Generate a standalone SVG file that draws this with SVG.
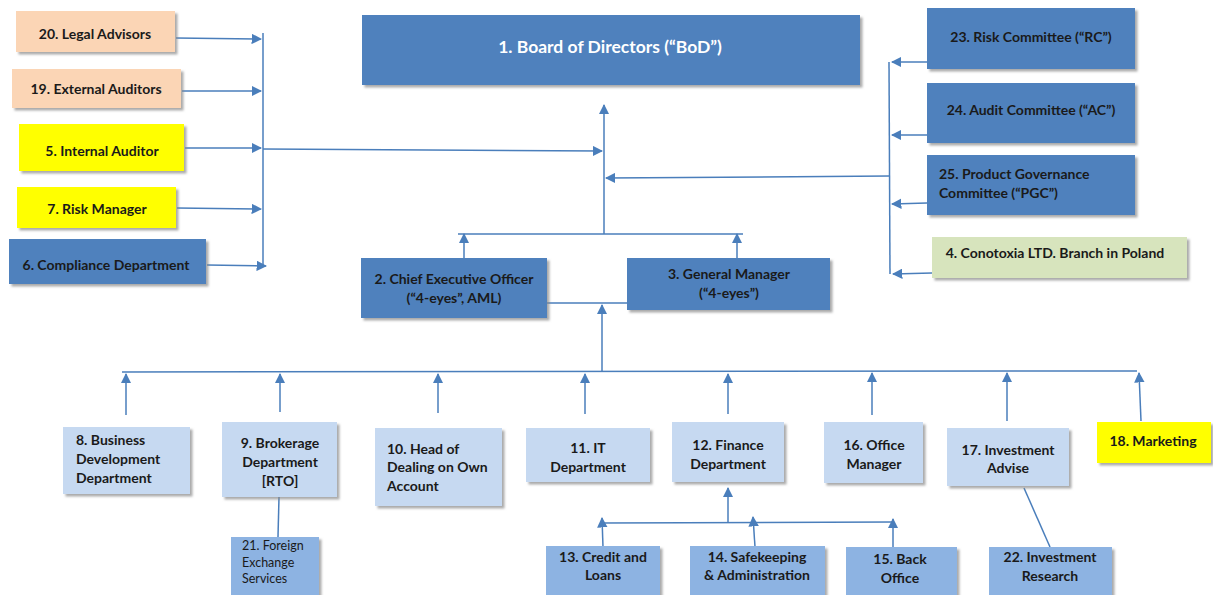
<svg xmlns="http://www.w3.org/2000/svg" width="1213" height="595" viewBox="0 0 1213 595">
<style>
text{font-family:Lato,"Open Sans","Liberation Sans",sans-serif;font-weight:bold;font-size:14px;fill:#1a1a1a;text-anchor:middle}
.l{text-anchor:start}
.w{fill:#ffffff;font-size:17.5px}
.n{font-weight:normal;font-size:12.5px}
.dk{fill:#4f81bd}
.lb{fill:#c6d9f1}
.mb{fill:#8db3e2}
.pe{fill:#fbd5b5}
.ye{fill:#ffff00}
.gr{fill:#d7e4bd}
rect{filter:url(#sh)}
.c line,.c polyline{stroke:#4a7ebb;stroke-width:1.5;fill:none}
.a{marker-end:url(#ar)}
</style>
<defs>
<filter id="sh" x="-10%" y="-10%" width="130%" height="140%">
<feDropShadow dx="2.5" dy="2.5" stdDeviation="1" flood-color="#888" flood-opacity="0.7"/>
</filter>
<marker id="ar" viewBox="0 0 10 10" refX="9" refY="5" markerWidth="7" markerHeight="7" markerUnits="strokeWidth" orient="auto">
<path d="M0,0 L10,5 L0,10 Z" fill="#4a7ebb"/>
</marker>
</defs>
<rect width="1213" height="595" fill="#ffffff" style="filter:none"/>

<g class="c">
<line x1="263" y1="33" x2="263" y2="266"/>
<line class="a" x1="176" y1="38" x2="261" y2="39"/>
<line class="a" x1="182" y1="91" x2="261" y2="91"/>
<line class="a" x1="185" y1="148" x2="261" y2="148"/>
<line class="a" x1="177" y1="208" x2="261" y2="209"/>
<line class="a" x1="207" y1="265" x2="266" y2="266"/>
<line class="a" x1="263" y1="149" x2="602" y2="151"/>
<line class="a" x1="604" y1="234" x2="604" y2="105"/>
<line class="a" x1="889" y1="176" x2="606" y2="178"/>
<line x1="889" y1="62" x2="890" y2="274"/>
<line class="a" x1="927" y1="62" x2="892" y2="62"/>
<line class="a" x1="927" y1="135" x2="892" y2="135"/>
<line class="a" x1="927" y1="203" x2="892" y2="204"/>
<line class="a" x1="932" y1="273" x2="893" y2="274"/>
<line x1="458" y1="234" x2="743" y2="234"/>
<line class="a" x1="464" y1="258" x2="464" y2="234"/>
<line class="a" x1="737" y1="258" x2="737" y2="234"/>
<line x1="547" y1="303" x2="627" y2="303"/>
<line class="a" x1="602" y1="372" x2="602" y2="305"/>
<line x1="122" y1="372" x2="1137" y2="371"/>
<line class="a" x1="126" y1="415" x2="126" y2="374"/>
<line class="a" x1="280" y1="412" x2="280" y2="374"/>
<line class="a" x1="438" y1="413" x2="438" y2="374"/>
<line class="a" x1="585" y1="414" x2="585" y2="374"/>
<line class="a" x1="728" y1="414" x2="728" y2="374"/>
<line class="a" x1="872" y1="415" x2="872" y2="373"/>
<line class="a" x1="1007" y1="421" x2="1007" y2="373"/>
<line class="a" x1="1141" y1="421" x2="1139" y2="373"/>
<line x1="279" y1="497" x2="278" y2="537"/>
<line x1="602" y1="523" x2="892" y2="522"/>
<line class="a" x1="728" y1="523" x2="728" y2="488"/>
<line class="a" x1="603" y1="547" x2="602" y2="518"/>
<line class="a" x1="755" y1="547" x2="753" y2="517"/>
<line class="a" x1="893" y1="547" x2="893" y2="519"/>
<line x1="1024" y1="488" x2="1050" y2="547"/>
</g>

<g id="n20"><rect class="pe" x="16" y="11" width="159" height="41"/><text x="95" y="39">20. Legal Advisors</text></g>
<g id="n19"><rect class="pe" x="12" y="69" width="169" height="39"/><text x="96" y="94">19. External Auditors</text></g>
<g id="n5"><rect class="ye" x="19" y="124" width="165" height="47"/><text x="102" y="156">5. Internal Auditor</text></g>
<g id="n7"><rect class="ye" x="17" y="187" width="159" height="41"/><text x="97" y="214">7. Risk Manager</text></g>
<g id="n6"><rect class="dk" x="9" y="239" width="197" height="45"/><text x="106" y="270">6. Compliance Department</text></g>

<g id="n1"><rect class="dk" x="362" y="15" width="498" height="70"/><text class="w" x="610" y="53">1. Board of Directors (“BoD”)</text></g>
<g id="n2"><rect class="dk" x="361" y="258" width="186" height="60"/><text x="454" y="284">2. Chief Executive Officer</text><text x="454" y="303">(“4-eyes”, AML)</text></g>
<g id="n3"><rect class="dk" x="627" y="258" width="203" height="52"/><text x="729" y="279">3. General Manager</text><text x="729" y="298">(“4-eyes”)</text></g>

<g id="n23"><rect class="dk" x="927" y="8" width="208" height="61"/><text x="1031" y="42">23. Risk Committee (“RC”)</text></g>
<g id="n24"><rect class="dk" x="927" y="83" width="208" height="60"/><text x="1031" y="115">24. Audit Committee (“AC”)</text></g>
<g id="n25"><rect class="dk" x="927" y="155" width="208" height="60"/><text class="l" x="939" y="179">25. Product Governance</text><text class="l" x="939" y="198">Committee (“PGC”)</text></g>
<g id="n4"><rect class="gr" x="932" y="237" width="255" height="41"/><text x="1055" y="258">4. Conotoxia LTD. Branch in Poland</text></g>

<g id="n8"><rect class="lb" x="63" y="427" width="127" height="67"/><text class="l" x="76" y="445">8. Business</text><text class="l" x="76" y="464">Development</text><text class="l" x="76" y="483">Department</text></g>
<g id="n9"><rect class="lb" x="222" y="422" width="115" height="75"/><text x="280" y="448">9. Brokerage</text><text x="280" y="467">Department</text><text x="280" y="486">[RTO]</text></g>
<g id="n10"><rect class="lb" x="375" y="428" width="127" height="78"/><text class="l" x="387" y="454">10. Head of</text><text class="l" x="387" y="472">Dealing on Own</text><text class="l" x="387" y="491">Account</text></g>
<g id="n21"><rect class="mb" x="231" y="537" width="88" height="58"/><text class="l n" x="242" y="550">21. Foreign</text><text class="l n" x="242" y="567">Exchange</text><text class="l n" x="242" y="583">Services</text></g>
<g id="n11"><rect class="lb" x="526" y="428" width="124" height="54"/><text x="588" y="453">11. IT</text><text x="588" y="472">Department</text></g>
<g id="n12"><rect class="lb" x="672" y="422" width="112" height="60"/><text x="728" y="450">12. Finance</text><text x="728" y="469">Department</text></g>
<g id="n16"><rect class="lb" x="824" y="422" width="99" height="61"/><text x="874" y="450">16. Office</text><text x="874" y="469">Manager</text></g>
<g id="n17"><rect class="lb" x="947" y="428" width="122" height="58"/><text x="1008" y="455">17. Investment</text><text x="1008" y="473">Advise</text></g>
<g id="n18"><rect class="ye" x="1097" y="422" width="114" height="41"/><text x="1153" y="446">18. Marketing</text></g>
<g id="n13"><rect class="mb" x="546" y="546" width="114" height="49"/><text x="603" y="562">13. Credit and</text><text x="603" y="580">Loans</text></g>
<g id="n14"><rect class="mb" x="690" y="546" width="135" height="49"/><text x="757" y="562">14. Safekeeping</text><text x="757" y="580">&amp; Administration</text></g>
<g id="n15"><rect class="mb" x="846" y="547" width="111" height="48"/><text x="900" y="564">15. Back</text><text x="900" y="583">Office</text></g>
<g id="n22"><rect class="mb" x="989" y="547" width="123" height="48"/><text x="1050" y="562">22. Investment</text><text x="1050" y="581">Research</text></g>
</svg>
